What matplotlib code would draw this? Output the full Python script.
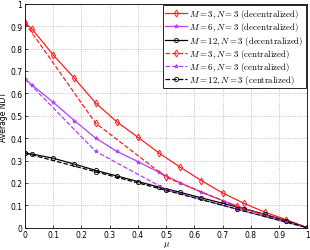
import matplotlib
matplotlib.use("Agg")
import matplotlib.pyplot as plt

plt.rcParams['mathtext.fontset'] = 'cm'
plt.rcParams['font.family'] = 'DejaVu Sans'

# mu grid for decentralized schemes
mu_dec = [0, 0.025, 0.1, 0.175, 0.25, 0.325, 0.4, 0.475, 0.55, 0.625, 0.7, 0.775, 0.85, 0.925, 1]
ndt_m3_dec = [0.914, 0.887, 0.771, 0.667, 0.557, 0.473, 0.404, 0.333, 0.27, 0.21, 0.155, 0.109, 0.069, 0.036, 0]
ndt_m6_dec = [0.664, 0.637, 0.56, 0.478, 0.4, 0.341, 0.295, 0.247, 0.2, 0.158, 0.121, 0.087, 0.058, 0.03, 0]
ndt_m12_dec = [0.333, 0.329, 0.31, 0.284, 0.256, 0.231, 0.206, 0.181, 0.158, 0.133, 0.109, 0.085, 0.059, 0.031, 0]

# centralized schemes
mu_cen = [0, 0.25, 0.5, 0.75, 1]
ndt_m3_cen = [0.914, 0.467, 0.225, 0.095, 0]
ndt_m6_cen = [0.664, 0.341, 0.17, 0.083, 0]
ndt_m12_cen = [0.333, 0.25, 0.1667, 0.0833, 0]

red = '#ff2020'
purple = '#b040ff'

fig = plt.figure(figsize=(3.1, 2.51), dpi=100)
ax = fig.add_axes([25/310, 1-228.7/251, 282.3/310, 224/251])

ax.plot(mu_dec, ndt_m3_dec, '-', color=red, lw=0.9, marker='d', ms=3.5, mfc='none', mew=0.7,
        label=r'$M = 3, N = 3\ \mathrm{(decentralized)}$')
ax.plot(mu_dec, ndt_m6_dec, '-', color=purple, lw=0.9, marker='*', ms=3, mew=0.5,
        label=r'$M = 6, N = 3\ \mathrm{(decentralized)}$')
ax.plot(mu_dec, ndt_m12_dec, '-', color='black', lw=0.9, marker='o', ms=3, mfc='none', mew=0.6,
        label=r'$M = 12, N = 3\ \mathrm{(decentralized)}$')
ax.plot(mu_cen, ndt_m3_cen, '--', color=red, lw=0.9, marker='d', ms=3.5, mfc='none', mew=0.7,
        label=r'$M = 3, N = 3\ \mathrm{(centralized)}$')
ax.plot(mu_cen, ndt_m6_cen, '--', color=purple, lw=0.9, marker='*', ms=3, mew=0.5,
        label=r'$M = 6, N = 3\ \mathrm{(centralized)}$')
ax.plot(mu_cen, ndt_m12_cen, '--', color='black', lw=0.9, marker='o', ms=3, mfc='none', mew=0.6,
        label=r'$M = 12, N = 3\ \mathrm{(centralized)}$')

ax.set_xlim(0, 1)
ax.set_ylim(0, 1)
ax.set_xticks([i/10 for i in range(11)])
ax.set_yticks([i/10 for i in range(11)])
ax.set_xticklabels(['0', '0.1', '0.2', '0.3', '0.4', '0.5', '0.6', '0.7', '0.8', '0.9', '1'])
ax.set_yticklabels(['0', '0.1', '0.2', '0.3', '0.4', '0.5', '0.6', '0.7', '0.8', '0.9', '1'])
ax.tick_params(labelsize=5.5, direction='in', length=2, width=0.5, pad=2)
ax.grid(True, ls=':', color='#b0b0b0', lw=0.6)
for s in ax.spines.values():
    s.set_linewidth(0.6)
ax.set_xlabel(r'$\mu$', fontsize=6.5, labelpad=0)
ax.set_ylabel('Average NDT', fontsize=5.5)
ax.yaxis.set_label_coords(-0.06, 0.5)

leg = ax.legend(loc='upper right', fontsize=6.4, handlelength=2.4, labelspacing=0.02,
                borderpad=0.25, handletextpad=0.3, fancybox=False, framealpha=1,
                borderaxespad=0.15)
leg.get_frame().set_edgecolor('black')
leg.get_frame().set_linewidth(0.6)

plt.savefig('out.png', dpi=100)
